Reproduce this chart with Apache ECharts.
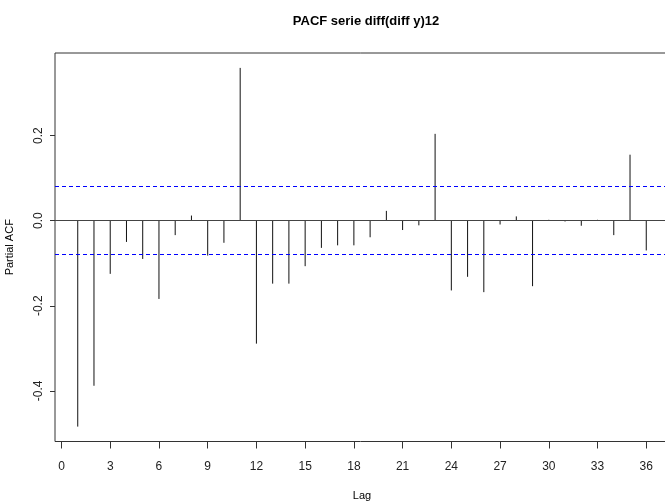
<!DOCTYPE html>
<html>
<head>
<meta charset="utf-8">
<script src="https://cdn.jsdelivr.net/npm/echarts@6/dist/echarts.min.js"></script>
<style>html,body{margin:0;padding:0;background:#fff;}#c{width:665px;height:504px;}</style>
</head>
<body>
<div id="c"></div>
<script>
const lags = [1,2,3,4,5,6,7,8,9,10,11,12,13,14,15,16,17,18,19,20,21,22,23,24,25,26,27,28,29,30,31,32,33,34,35,36];
const pacf = [-0.484,-0.388,-0.125,-0.050,-0.090,-0.184,-0.034,0.012,-0.082,-0.052,0.359,-0.289,
              -0.148,-0.148,-0.107,-0.064,-0.058,-0.058,-0.039,0.023,-0.022,-0.011,0.204,-0.164,
              -0.132,-0.168,-0.009,0.010,-0.154,0.002,-0.002,-0.012,0.002,-0.034,0.155,-0.070];
const ciBound = 0.082;
const xTicks = [0,3,6,9,12,15,18,21,24,27,30,33,36];
const yTicks = [-0.4,-0.2,0,0.2];
const titleText = 'PACF serie diff(diff y)12';
const FONT = '"Liberation Sans Narrow", "Liberation Sans", Arial, sans-serif';

const chart = echarts.init(document.getElementById('c'), null, {renderer:'canvas'});
chart.setOption({
  animation: false,
  backgroundColor: '#fff',
  title: {
    text: titleText, left: 361, top: 10, textAlign: 'center',
    textStyle: {fontFamily: FONT, fontSize: 13, fontWeight: 'bold', color: '#000'}
  },
  grid: {left: 55, top: 53, width: 614, height: 388.5, show: true, borderColor: '#333', borderWidth: 1,
    backgroundColor: 'transparent', containLabel: false, outerBoundsMode: 'none'},
  xAxis: {
    type: 'value', min: -0.4, max: 37.4,
    name: 'Lag', nameLocation: 'middle', nameGap: 49,
    nameTextStyle: {fontFamily: FONT, fontSize: 11, color: '#000'},
    axisLine: {show: false, onZero: false},
    splitLine: {show: false},
    axisTick: {show: true, inside: false, length: 7, customValues: xTicks, lineStyle: {color: '#333'}},
    axisLabel: {show: true, customValues: xTicks, margin: 19, fontFamily: FONT, fontSize: 12, color: '#222', formatter: v => String(v)}
  },
  yAxis: {
    type: 'value', min: -0.519, max: 0.394,
    name: 'Partial ACF', nameLocation: 'middle', nameGap: 40, nameRotate: 90,
    nameTextStyle: {fontFamily: FONT, fontSize: 11, color: '#000'},
    axisLine: {show: false, onZero: false},
    splitLine: {show: false},
    axisTick: {show: true, inside: false, length: 5, customValues: yTicks, lineStyle: {color: '#333'}},
    axisLabel: {show: true, customValues: yTicks, rotate: 90, margin: 10, fontFamily: FONT, fontSize: 12, color: '#222',
      formatter: v => v.toFixed(1)}
  },
  series: [
    {
      type: 'custom',
      data: lags.map((l, i) => [l, pacf[i]]),
      renderItem: function (params, api) {
        const p0 = api.coord([api.value(0), 0]);
        const p1 = api.coord([api.value(0), api.value(1)]);
        return {type: 'line', shape: {x1: p0[0], y1: p0[1], x2: p1[0], y2: p1[1]},
          style: {stroke: '#111', lineWidth: 1}};
      },
      markLine: {
        silent: true, symbol: 'none', label: {show: false},
        data: [
          {yAxis: 0, lineStyle: {color: '#444', type: 'solid', width: 1.2}},
          {yAxis: ciBound, lineStyle: {color: '#0000ff', type: [4, 3], width: 1}},
          {yAxis: -ciBound, lineStyle: {color: '#0000ff', type: [4, 3], width: 1}}
        ]
      }
    }
  ]
});
</script>
</body>
</html>
